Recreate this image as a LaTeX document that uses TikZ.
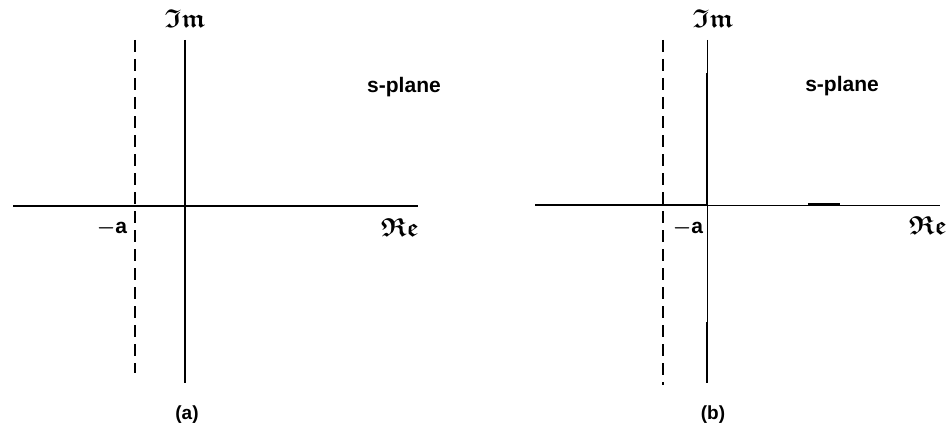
\documentclass[tikz,border=0pt]{standalone}
\usepackage{amsmath,amssymb}
\usepackage{fontspec}
\setmainfont{Liberation Sans}
\begin{document}
\begin{tikzpicture}[x=1pt,y=-1pt,
  axis/.style={line width=2pt,black},
  thinaxis/.style={line width=1pt,black},
  vaxis/.style={line width=2.5pt,black},
  dashline/.style={line width=2.2pt,dash pattern=on 12pt off 7pt},
  frak/.style={inner sep=0pt,font=\fontsize{26}{28}\selectfont},
  lbl/.style={inner sep=0pt,font=\bfseries\fontsize{21}{23}\selectfont},
  captxt/.style={inner sep=0pt,font=\bfseries\fontsize{19}{21}\selectfont}]
\useasboundingbox[fill=white] (0,0) rectangle (949,425);
% ---- (a) ----
\coordinate (aL) at (13,206);
\coordinate (aR) at (418,206);
\coordinate (aT) at (185,40);
\coordinate (aB) at (185,383);
\coordinate (adT) at (135,40);
\coordinate (adB) at (135,373);
\draw[axis] (aL) -- (aR);
\draw[vaxis] (aT) -- (aB);
\draw[dashline] (adT) -- (adB);
\node[frak] (aim) at (185,19) {$\boldsymbol{\mathfrak{I}\mathfrak{m}}$};
\node[frak] (are) at (400,228) {$\boldsymbol{\mathfrak{R}\mathfrak{e}}$};
\node[lbl] (aa) at (112,228) {$\boldsymbol{-}$a};
\node[lbl] (asp) at (404,87) {s-plane};
\node[captxt] (acap) at (187,415) {(a)};
% ---- (b) ----
\coordinate (bL) at (535,205);
\coordinate (bM) at (707,205);
\coordinate (bR) at (940,205);
\coordinate (bT) at (707,40);
\coordinate (bT2) at (707,73);
\coordinate (bB2) at (707,322);
\coordinate (bB) at (707,383);
\coordinate (bs1) at (808,204);
\coordinate (bs2) at (840,204);
\coordinate (bdT) at (663,40);
\coordinate (bdB) at (663,385);
\draw[axis] (bL) -- (bM);
\draw[thinaxis] (bM) -- (bR);
\draw[axis] (bs1) -- (bs2);
\draw[thinaxis] (bT) -- (bT2);
\draw[vaxis] (bT2) -- (bM);
\draw[thinaxis] (bM) -- (bB2);
\draw[vaxis] (bB2) -- (bB);
\draw[dashline,line width=1.6pt] (bdT) -- (bdB);
\node[frak] (bim) at (713,19) {$\boldsymbol{\mathfrak{I}\mathfrak{m}}$};
\node[frak] (bre) at (928,226) {$\boldsymbol{\mathfrak{R}\mathfrak{e}}$};
\node[lbl] (ba) at (688,228) {$\boldsymbol{-}$a};
\node[lbl] (bsp) at (842,86) {s-plane};
\node[captxt] (bcap) at (713,415) {(b)};
\end{tikzpicture}
\end{document}
